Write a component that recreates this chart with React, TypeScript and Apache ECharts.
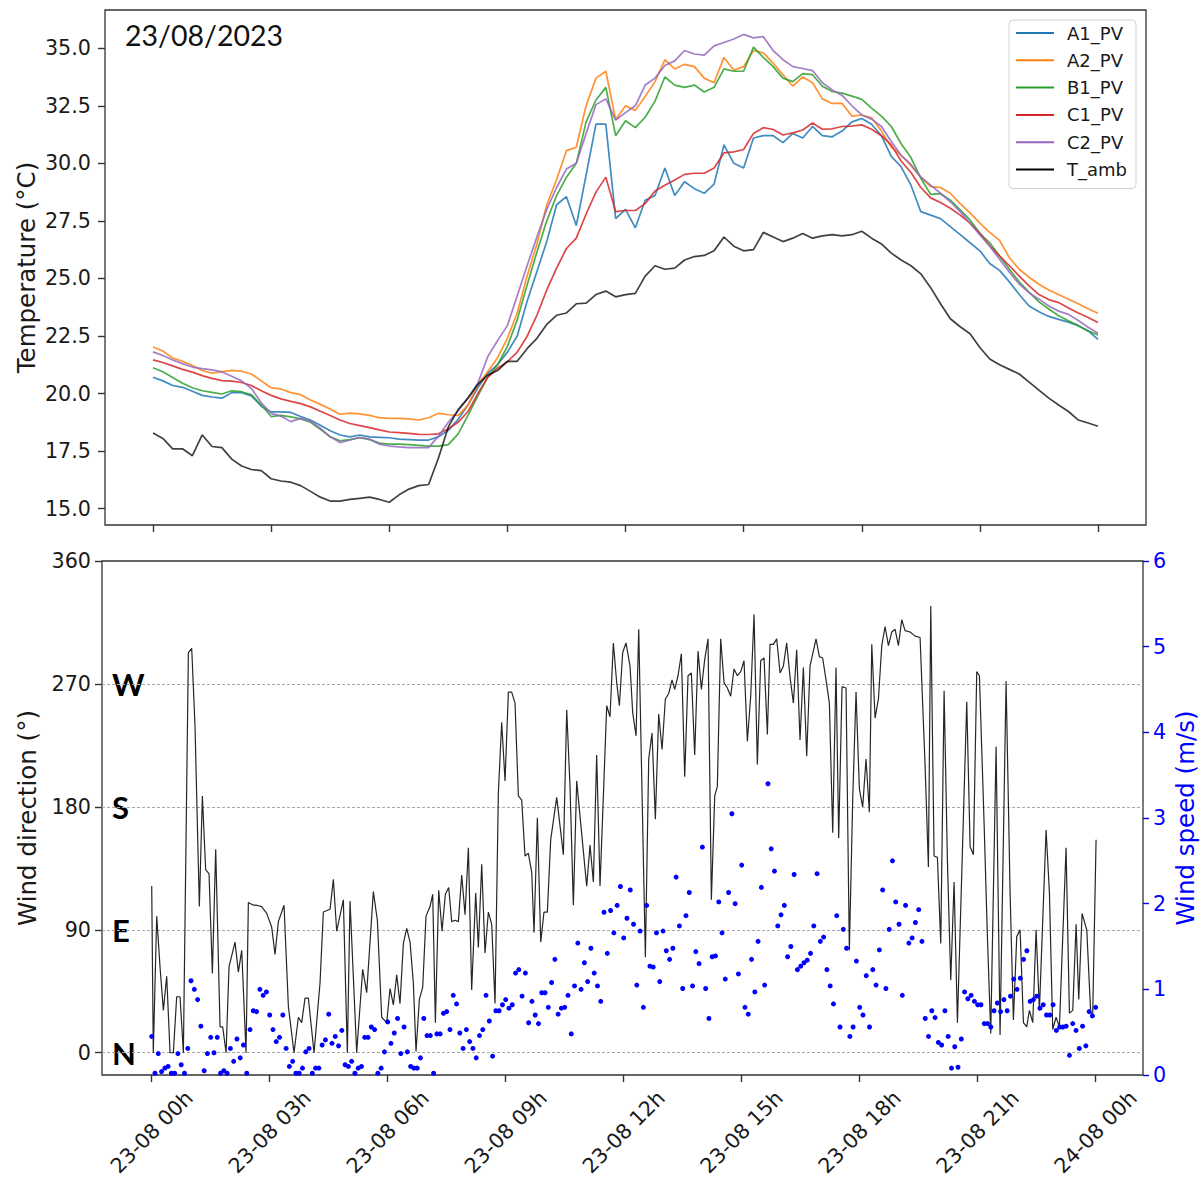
import React, { useEffect, useRef } from "react";
import * as echarts from "echarts";

// ---------- DATA ----------
// temperature samples every 15 min from 23-08 00h to 24-08 00h
const TEMP_STEP_H = 0.25;
const A1_PV = [20.71,20.55,20.35,20.27,20.1,19.92,19.85,19.8,20.04,20.04,19.9,19.45,19.2,19.2,19.18,19.0,18.85,18.62,18.38,18.2,18.12,18.2,18.12,18.1,18.08,18.02,18.0,17.98,17.98,18.12,18.4,18.88,19.5,20.25,20.88,21.25,21.8,22.5,24.0,25.3,26.6,28.2,28.55,27.3,29.5,31.7,31.7,27.6,28.0,27.2,28.4,28.6,29.8,28.6,29.2,28.9,28.7,29.1,30.8,30.0,29.8,31.1,31.2,31.2,30.9,31.3,31.1,31.6,31.2,31.15,31.4,31.8,31.95,31.7,31.2,30.3,29.85,29.05,27.9,27.75,27.6,27.25,26.9,26.55,26.2,25.65,25.35,24.85,24.3,23.8,23.55,23.35,23.22,23.1,22.95,22.72,22.35];
const A2_PV = [22.02,21.85,21.54,21.4,21.22,21.0,20.88,20.95,21.01,20.97,20.85,20.55,20.25,20.2,20.04,19.95,19.72,19.53,19.33,19.1,19.15,19.12,19.05,18.95,18.92,18.92,18.9,18.85,18.95,19.14,19.08,19.05,19.5,20.4,20.95,21.55,22.4,23.5,25.1,26.5,28.2,29.3,30.55,30.7,32.5,33.7,34.0,31.9,32.5,32.3,32.9,33.55,34.5,34.1,34.3,34.2,33.7,33.5,34.6,34.05,34.2,34.9,34.8,34.35,33.85,33.35,33.75,33.5,32.8,32.6,32.6,32.05,32.1,31.98,31.4,30.7,30.35,29.9,29.4,28.99,28.95,28.7,28.25,27.85,27.4,27.0,26.65,25.9,25.4,25.05,24.75,24.5,24.3,24.1,23.9,23.68,23.49];
const B1_PV = [21.12,20.95,20.7,20.45,20.25,20.12,20.05,19.98,20.12,20.08,19.95,19.5,19.0,19.05,18.99,18.9,18.75,18.45,18.12,17.95,18.0,18.08,18.0,17.85,17.8,17.8,17.78,17.75,17.72,17.72,17.78,18.25,19.05,19.9,20.7,21.25,22.05,23.2,24.7,26.15,27.5,28.6,29.4,30.0,31.8,32.75,33.3,31.2,31.85,31.55,32.0,32.7,33.75,33.4,33.3,33.4,33.1,33.3,34.1,34.0,34.0,35.05,34.6,34.2,33.7,33.55,33.9,33.85,33.35,33.12,33.05,32.92,32.78,32.4,32.05,31.6,30.85,30.25,29.35,28.65,28.68,28.4,27.98,27.54,26.96,26.55,25.97,25.4,24.85,24.4,23.98,23.67,23.38,23.16,22.95,22.72,22.55];
const C1_PV = [21.46,21.35,21.2,21.05,20.93,20.78,20.66,20.56,20.54,20.48,20.35,20.12,19.92,19.77,19.66,19.56,19.42,19.23,19.05,18.85,18.7,18.61,18.52,18.42,18.33,18.3,18.27,18.23,18.22,18.25,18.47,18.75,19.22,20.0,20.7,21.1,21.38,21.8,22.48,23.4,24.5,25.45,26.3,26.75,27.8,28.75,29.4,27.9,27.95,27.95,28.25,28.8,29.05,29.28,29.52,29.57,29.57,29.8,30.45,30.5,30.6,31.3,31.55,31.47,31.23,31.32,31.45,31.75,31.48,31.5,31.6,31.62,31.67,31.48,31.2,30.8,30.1,29.6,28.95,28.5,28.3,28.05,27.75,27.4,26.96,26.42,25.98,25.55,25.1,24.68,24.3,24.08,23.95,23.72,23.5,23.3,23.09];
const C2_PV = [21.81,21.65,21.46,21.3,21.15,21.08,21.03,20.94,20.75,20.55,20.22,19.6,19.14,19.02,18.78,18.92,18.8,18.5,18.12,17.87,17.98,18.1,18.02,17.8,17.72,17.68,17.65,17.65,17.65,18.15,18.75,19.25,19.82,20.45,21.6,22.3,22.95,24.25,25.55,26.8,28.0,28.95,29.75,30.0,31.3,32.55,32.8,31.88,32.2,32.5,33.4,33.7,34.25,34.45,34.9,34.75,34.7,35.1,35.25,35.4,35.6,35.45,35.5,34.9,34.5,34.2,34.12,34.03,33.5,33.19,32.95,32.5,32.1,31.92,31.6,30.95,30.35,29.95,29.4,29.05,28.7,28.33,27.9,27.4,26.89,26.4,25.83,25.27,24.75,24.38,24.1,23.8,23.58,23.44,23.17,22.88,22.62];
const T_amb = [18.29,18.05,17.6,17.6,17.3,18.2,17.7,17.65,17.15,16.85,16.7,16.65,16.3,16.2,16.15,16.0,15.75,15.5,15.33,15.33,15.4,15.45,15.5,15.4,15.28,15.6,15.85,16.0,16.05,17.2,18.55,19.3,19.8,20.4,20.8,21.0,21.4,21.4,21.95,22.4,23.0,23.4,23.5,23.9,23.93,24.3,24.45,24.2,24.3,24.35,25.1,25.55,25.4,25.45,25.8,25.95,26.0,26.2,26.8,26.4,26.2,26.25,27.0,26.8,26.6,26.75,26.95,26.75,26.85,26.9,26.85,26.9,27.05,26.75,26.5,26.1,25.8,25.55,25.2,24.6,23.9,23.25,22.9,22.6,22.0,21.5,21.25,21.05,20.85,20.5,20.15,19.8,19.5,19.22,18.85,18.72,18.58];

const TEMP_NAMES = ["A1_PV", "A2_PV", "B1_PV", "C1_PV", "C2_PV", "T_amb"];
const TEMP_VALUES = [A1_PV, A2_PV, B1_PV, C1_PV, C2_PV, T_amb];
const TEMP_COLORS = ["#1f77b4", "#ff7f0e", "#2ca02c", "#d62728", "#9467bd", "#000000"];

// wind direction: [hour, degrees]
const windDirection: [number, number][] = [
  [0.0,122],[0.04,0],[0.127,100],[0.211,63],[0.296,31],[0.381,56],[0.466,0],[0.55,0],[0.635,41],[0.72,41],[0.805,0],[0.932,293],[1.017,296],[1.101,239],[1.211,107],[1.288,188],[1.372,134],[1.457,131],[1.542,58],[1.627,149],[1.737,19],[1.805,19],[1.89,0],[1.966,63],[2.118,81],[2.203,59],[2.288,75],[2.398,0],[2.457,110],[2.584,108],[2.669,108],[2.796,107],[2.923,102],[3.05,92],[3.135,72],[3.22,96],[3.364,108],[3.474,34],[3.618,0],[3.729,26],[3.813,22],[3.898,40],[3.983,40],[4.127,0],[4.279,51],[4.364,103],[4.534,105],[4.618,127],[4.703,89],[4.872,112],[4.974,0],[5.042,111],[5.211,0],[5.364,61],[5.466,44],[5.635,118],[5.737,97],[5.847,26],[5.974,22],
  [6.059,47],[6.144,35],[6.229,57],[6.313,36],[6.398,80],[6.483,91],[6.568,81],[6.652,51],[6.72,1],[6.805,39],[6.89,48],[6.974,100],[7.076,107],[7.144,116],[7.212,22],[7.297,119],[7.381,89],[7.466,116],[7.551,121],[7.627,96],[7.712,97],[7.797,96],[7.881,130],[7.966,101],[8.051,150],[8.135,46],[8.237,117],[8.305,77],[8.39,138],[8.474,73],[8.559,103],[8.644,94],[8.729,36],[8.813,190],[8.898,242],[8.983,199],[9.068,264],[9.152,264],[9.237,256],[9.322,188],[9.407,185],[9.491,144],[9.576,146],[9.661,132],[9.72,88],[9.805,172],[9.89,81],[9.974,103],[10.059,103],[10.144,156],[10.297,187],[10.466,145],[10.551,251],[10.635,195],[10.72,108],[10.805,199],[10.89,173],[11.059,122],[11.144,152],[11.229,125],[11.313,218],[11.398,122],[11.568,254],[11.652,246],[11.737,300],[11.822,271],[11.89,254],[11.974,293],[12.059,300],[12.161,283],
  [12.229,249],[12.314,232],[12.382,310],[12.551,70],[12.636,215],[12.72,234],[12.805,171],[12.89,248],[12.975,222],[13.059,259],[13.144,263],[13.229,273],[13.297,266],[13.381,276],[13.466,292],[13.551,202],[13.636,276],[13.72,278],[13.805,218],[13.89,294],[13.975,266],[14.06,288],[14.144,303],[14.229,112],[14.314,188],[14.381,195],[14.466,303],[14.551,271],[14.636,267],[14.72,261],[14.805,281],[14.89,276],[14.975,279],[15.059,287],[15.144,228],[15.229,261],[15.314,321],[15.398,211],[15.483,287],[15.568,289],[15.653,233],[15.72,299],[15.805,299],[15.89,303],[15.975,278],[16.059,283],[16.144,300],[16.229,275],[16.314,256],[16.398,295],[16.483,229],[16.568,282],[16.653,217],[16.737,283],[16.89,303],[16.975,290],[17.059,289],[17.144,273],[17.229,256],[17.314,161],[17.398,282],[17.466,157],[17.551,268],[17.653,267],[17.737,75],[17.822,185],[17.907,264],[17.992,193],[18.076,180],[18.161,215],[18.246,176],
  [18.307,299],[18.391,245],[18.476,259],[18.561,298],[18.646,312],[18.73,298],[18.815,308],[18.9,310],[18.985,298],[19.069,317],[19.154,309],[19.281,308],[19.408,305],[19.535,304],[19.663,210],[19.747,136],[19.807,327],[19.891,144],[19.976,143],[20.061,80],[20.146,265],[20.23,141],[20.315,53],[20.4,125],[20.485,22],[20.722,257],[20.807,151],[20.891,145],[20.976,279],[21.044,276],[21.163,168],[21.247,85],[21.332,14],[21.468,224],[21.569,13],[21.722,272],[21.824,117],[21.908,24],[21.993,85],[22.078,90],[22.163,22],[22.247,19],[22.315,31],[22.4,22],[22.485,90],[22.569,31],[22.739,163],[22.824,117],[22.908,17],[22.993,26],[23.078,19],[23.247,150],[23.332,29],[23.417,31],[23.502,94],[23.569,39],[23.654,102],[23.773,90],[23.874,29],[23.925,29],[24.01,156]
];

// wind speed every 5 min (m/s)
const SPEED_STEP_H = 5 / 60;
const windSpeed = [
  0.45,0.02,0.25,0.04,0.08,0.1,0.02,0.02,0.25,0.12,0.02,0.31,1.1,1.0,0.88,0.57,0.05,0.25,0.44,0.26,0.44,0.02,0.05,0.02,0.31,0.16,0.42,0.2,0.35,0.02,0.53,0.75,0.74,1.0,0.93,0.97,0.7,0.53,0.39,0.44,0.7,0.31,0.1,0.16,0.02,0.02,0.08,0.27,0.31,0.02,0.08,0.08,0.35,0.41,0.71,0.37,0.45,0.34,0.52,0.12,0.1,0.16,0.02,0.08,0.1,0.44,0.44,0.56,0.53,0.02,0.08,0.27,0.62,
  0.37,0.49,0.66,0.25,0.56,0.27,0.1,0.08,0.08,0.2,0.66,0.46,0.46,0.02,0.48,0.48,0.72,0.74,0.53,0.93,0.83,0.49,0.31,0.53,0.39,0.31,0.2,0.46,0.53,0.93,0.63,0.22,0.75,0.75,0.82,0.88,0.78,0.82,1.19,1.23,0.92,1.19,0.61,0.86,0.7,0.6,0.96,0.96,0.79,1.08,1.35,0.71,0.78,0.79,0.93,0.48,1.04,1.54,1.0,1.31,1.09,1.48,1.19,1.04,0.86,1.9,1.42,1.92,1.66,1.98,2.2,1.6,1.83,
  2.16,1.76,1.05,1.68,0.79,1.98,1.27,1.26,1.66,1.09,1.68,1.45,1.35,1.48,2.31,1.74,1.01,1.86,2.13,1.04,1.44,1.3,2.66,1.01,0.66,1.38,1.39,2.02,1.66,1.12,2.13,3.05,2.0,1.18,2.45,0.79,0.71,1.35,0.97,1.56,2.19,1.05,3.4,2.64,2.38,1.74,1.87,1.98,1.38,1.5,2.34,1.23,1.27,1.31,1.34,1.42,1.74,2.35,1.56,1.61,1.23,1.04,0.83,1.86,0.56,1.7,1.48,0.45,0.56,1.33,0.79,0.7,1.16,0.56,
  1.23,1.05,1.46,2.16,1.01,1.7,2.5,2.02,1.76,0.93,1.98,1.54,1.6,1.78,1.93,1.56,0.66,0.45,0.75,0.67,0.38,0.35,0.75,0.45,0.08,0.33,0.09,0.42,0.97,0.89,0.93,0.86,0.82,0.82,0.6,0.6,0.56,0.75,0.84,0.74,0.88,0.75,0.92,1.12,1.0,1.13,1.35,1.45,0.86,0.88,0.92,0.78,0.82,0.7,0.7,0.82,0.52,0.56,0.56,0.57,0.23,0.6,0.52,0.31,0.57,0.34,0.74,0.69,0.79
];

const X_TICK_HOURS = [0, 3, 6, 9, 12, 15, 18, 21, 24];
const X_TICK_LABELS = ["23-08 00h", "23-08 03h", "23-08 06h", "23-08 09h", "23-08 12h", "23-08 15h", "23-08 18h", "23-08 21h", "24-08 00h"];
const TEMP_TICKS = [15, 17.5, 20, 22.5, 25, 27.5, 30, 32.5, 35];
const DIR_TICKS = [0, 90, 180, 270, 360];
const COMPASS_DEG = [0, 90, 180, 270];
const COMPASS_LABELS = ["N", "E", "S", "W"];
const DATE_TITLE = "23/08/2023";

// ---------- CHART ----------
const FONT = "DejaVu Sans";
const TXT = "#1a1a1a";
const FS = 20.7;
const NAME_FS = 24.5;

function buildOption() {
  const tempSeries = TEMP_NAMES.map((name, k) => ({
    name,
    type: "line",
    xAxisIndex: 0,
    yAxisIndex: 0,
    symbol: "none",
    showSymbol: false,
    data: TEMP_VALUES[k].map((v, i) => [i * TEMP_STEP_H, v]),
    lineStyle: { color: TEMP_COLORS[k], width: 1.7, opacity: k === 5 ? 0.75 : 0.85 },
    itemStyle: { color: TEMP_COLORS[k] },
    z: 3,
  }));

  const tickCommon = { show: true, length: 7, lineStyle: { color: "#333", width: 1.4 } };
  const noLine = { show: false, onZero: false };

  return {
    animation: false,
    textStyle: { fontFamily: FONT },
    title: {
      text: DATE_TITLE,
      left: 125,
      top: 20,
      padding: 0,
      textStyle: { fontFamily: "Lato", fontSize: 28.5, fontWeight: "normal", color: "#111" },
    },
    legend: {
      data: TEMP_NAMES,
      orient: "vertical",
      right: 66,
      top: 20,
      icon: "rect",
      itemWidth: 38,
      itemHeight: 2,
      itemGap: 9.3,
      padding: [4, 9, 10, 7],
      borderColor: "#d0d0d0",
      borderWidth: 1,
      borderRadius: 4,
      backgroundColor: "rgba(255,255,255,0.85)",
      textStyle: { fontFamily: FONT, fontSize: 18, color: TXT, lineHeight: 18, padding: [0, 0, 0, 8] },
    },
    grid: [
      { left: 105, top: 10, width: 1041, height: 515, outerBoundsMode: "none", containLabel: false, show: true, borderColor: "#333", borderWidth: 1.3, backgroundColor: "transparent" },
      { left: 102, top: 561, width: 1041, height: 514, outerBoundsMode: "none", containLabel: false, show: true, borderColor: "#333", borderWidth: 1.3, backgroundColor: "transparent" },
    ],
    xAxis: [
      {
        type: "value", gridIndex: 0, min: -1.219, max: 25.219,
        axisLine: noLine, splitLine: { show: false },
        axisTick: { ...tickCommon, customValues: X_TICK_HOURS },
        axisLabel: { show: false },
      },
      {
        type: "value", gridIndex: 1, min: -1.264, max: 25.203,
        axisLine: noLine, splitLine: { show: false },
        axisTick: { ...tickCommon, customValues: X_TICK_HOURS },
        axisLabel: {
          show: true,
          customValues: X_TICK_HOURS,
          formatter: (v: number) => X_TICK_LABELS[X_TICK_HOURS.indexOf(Math.round(v))] ?? "",
          rotate: 45,
          align: "center",
          verticalAlign: "middle",
          margin: 57,
          fontFamily: FONT,
          fontSize: FS,
          color: TXT,
        },
      },
    ],
    yAxis: [
      {
        type: "value", gridIndex: 0, min: 14.29, max: 36.66,
        name: "Temperature (°C)", nameLocation: "middle", nameGap: 66, nameRotate: 90, nameMoveOverlap: false,
        nameTextStyle: { fontFamily: FONT, fontSize: NAME_FS, color: TXT },
        axisLine: noLine, splitLine: { show: false },
        axisTick: { ...tickCommon, customValues: TEMP_TICKS },
        axisLabel: {
          customValues: TEMP_TICKS,
          formatter: (v: number) => v.toFixed(1),
          margin: 14, fontFamily: FONT, fontSize: FS, color: TXT,
        },
      },
      {
        type: "value", gridIndex: 1, min: -16.3, max: 360,
        name: "Wind direction (°)", nameLocation: "middle", nameGap: 62, nameRotate: 90, nameMoveOverlap: false,
        nameTextStyle: { fontFamily: FONT, fontSize: NAME_FS, color: TXT },
        axisLine: noLine, splitLine: { show: false },
        axisTick: { ...tickCommon, customValues: DIR_TICKS },
        axisLabel: { customValues: DIR_TICKS, margin: 11, fontFamily: FONT, fontSize: FS, color: TXT },
      },
      {
        type: "value", gridIndex: 1, position: "right", min: 0, max: 6, interval: 1,
        name: "Wind speed (m/s)", nameLocation: "middle", nameGap: 30, nameRotate: 90, nameMoveOverlap: false,
        nameTextStyle: { fontFamily: FONT, fontSize: NAME_FS, color: "#0000ff" },
        axisLine: noLine, splitLine: { show: false },
        axisTick: { show: true, length: 6, lineStyle: { color: "#0000ff", width: 1.4 } },
        axisLabel: { margin: 10, fontFamily: FONT, fontSize: FS, color: "#0000ff" },
      },
      {
        type: "value", gridIndex: 1, position: "left", min: -16.3, max: 360,
        axisLine: noLine, splitLine: { show: false }, axisTick: { show: false },
        axisLabel: {
          inside: true,
          customValues: COMPASS_DEG,
          formatter: (v: number) => COMPASS_LABELS[COMPASS_DEG.indexOf(Math.round(v))] ?? "",
          margin: 10,
          fontFamily: "Lato",
          fontWeight: "bold",
          fontSize: 31,
          color: "#000",
        },
      },
    ],
    series: [
      ...tempSeries,
      {
        name: "Wind direction",
        type: "line",
        xAxisIndex: 1,
        yAxisIndex: 1,
        symbol: "none",
        showSymbol: false,
        data: windDirection,
        lineStyle: { color: "#000", width: 1.2, opacity: 0.85 },
        itemStyle: { color: "#000" },
        z: 3,
        markLine: {
          silent: true,
          symbol: "none",
          label: { show: false },
          lineStyle: { color: "#a8a8a8", width: 1, type: [3, 2] },
          data: COMPASS_DEG.map((d) => ({ yAxis: d })),
          z: 1,
        },
      },
      {
        name: "Wind speed",
        type: "scatter",
        xAxisIndex: 1,
        yAxisIndex: 2,
        symbolSize: 5,
        data: windSpeed.map((v, i) => [i * SPEED_STEP_H, v]),
        itemStyle: { color: "#0000ff", opacity: 1 },
        z: 4,
      },
    ],
  };
}

export default function App() {
  const ref = useRef<HTMLDivElement>(null);
  useEffect(() => {
    document.body.style.margin = "0";
    if (!ref.current) return;
    const chart = echarts.init(ref.current, undefined, { renderer: "svg" });
    chart.setOption(buildOption() as any);
    return () => chart.dispose();
  }, []);
  return <div ref={ref} style={{ width: 1202, height: 1177 }} />;
}
